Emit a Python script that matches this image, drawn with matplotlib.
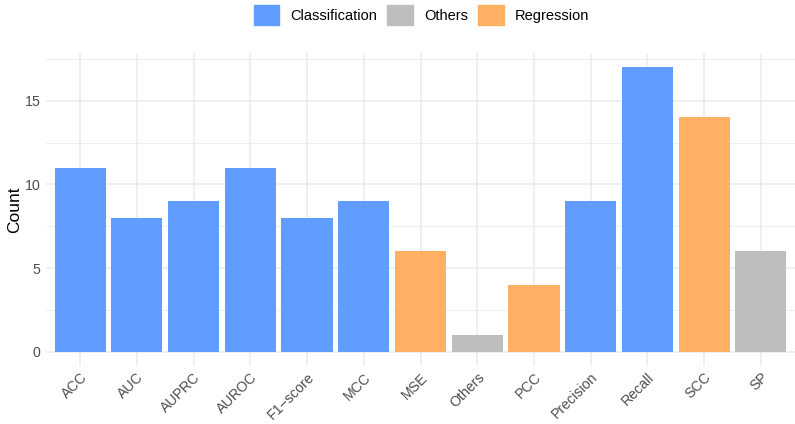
import matplotlib.pyplot as plt
from matplotlib.patches import Patch
from matplotlib.ticker import MultipleLocator

plt.rcParams['font.family'] = ['Liberation Sans', 'DejaVu Sans']

metrics = ["ACC", "AUC", "AUPRC", "AUROC", "F1\u2212score", "MCC", "MSE",
           "Others", "PCC", "Precision", "Recall", "SCC", "SP"]
counts = [11, 8, 9, 11, 8, 9, 6, 1, 4, 9, 17, 14, 6]
groups = ["Classification", "Classification", "Classification", "Classification",
          "Classification", "Classification", "Regression", "Others", "Regression",
          "Classification", "Classification", "Regression", "Others"]

colors = {"Classification": "#619CFF", "Others": "#BEBEBE", "Regression": "#FFB062"}

fig = plt.figure(figsize=(7.95, 4.24), dpi=100)
ax = fig.add_axes([46 / 795, 58 / 424, 749 / 795, 313 / 424])

x = list(range(len(metrics)))
ax.bar(x, counts, width=0.9, color=[colors[g] for g in groups], zorder=2)

ax.set_xlim(-0.6, len(metrics) - 0.4)
ax.set_ylim(-0.85, 17.85)
ax.yaxis.set_major_locator(MultipleLocator(5))
ax.yaxis.set_minor_locator(MultipleLocator(2.5))
ax.set_xticks(x)
ax.set_xticklabels(metrics, rotation=45, ha='right', va='top', rotation_mode='anchor')

ax.grid(True, which='major', color='#EBEBEB', linewidth=1.1, zorder=0)
ax.grid(True, which='minor', axis='y', color='#EBEBEB', linewidth=0.6, zorder=0)
for s in ax.spines.values():
    s.set_visible(False)
ax.tick_params(which='both', length=0, labelsize=10.2, labelcolor='#4D4D4D', pad=4)
ax.tick_params(axis='x', pad=3)
for lbl in ax.get_xticklabels():
    lbl.set_x(lbl.get_position()[0])
ax.set_ylabel("Count", fontsize=12.5, labelpad=2)

handles = [Patch(color=colors[k], label=k) for k in ["Classification", "Others", "Regression"]]
fig.legend(handles=handles, loc='upper center', bbox_to_anchor=(0.53, 1.005), ncol=3,
           frameon=False, fontsize=10.5, handlelength=1.75, handleheight=1.75,
           handletextpad=0.75, columnspacing=0.7, borderaxespad=0.1)

fig.savefig("out.png", dpi=100)
